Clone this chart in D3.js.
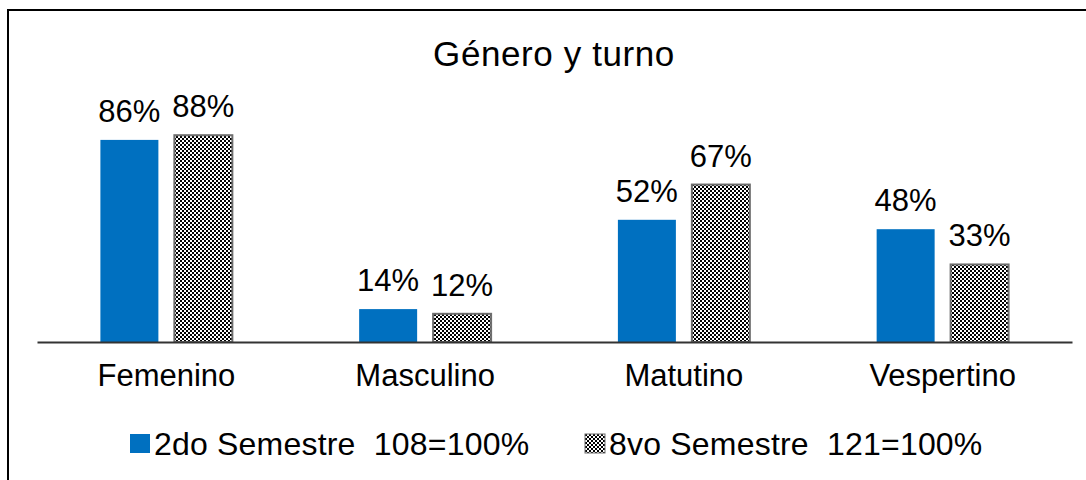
<!DOCTYPE html>
<html>
<head>
<meta charset="utf-8">
<script src="https://cdn.jsdelivr.net/npm/d3@7"></script>
<style>
  body { margin: 0; background: #fff; }
  svg { display: block; font-family: "Liberation Sans", Arial, Helvetica, sans-serif; }
</style>
</head>
<body>
<svg id="chart" width="1086" height="480"></svg>
<script>
// chart data
const categories = ["Femenino", "Masculino", "Matutino", "Vespertino"];
const seriesNames = ["2do Semestre  108=100%", "8vo Semestre  121=100%"];
const sem2 = [86, 14, 52, 48];
const sem8 = [88, 12, 67, 33];
const title = "Género y turno";

const svg = d3.select("#chart");

// pattern for the 8vo semestre bars (checker)
const defs = svg.append("defs");
const pat = defs.append("pattern")
    .attr("id", "checker")
    .attr("patternUnits", "userSpaceOnUse")
    .attr("width", 4).attr("height", 4);
pat.append("rect").attr("width", 4).attr("height", 4).attr("fill", "#fff");
pat.append("rect").attr("width", 2).attr("height", 2).attr("fill", "#000");
pat.append("rect").attr("x", 2).attr("y", 2).attr("width", 2).attr("height", 2).attr("fill", "#000");

// frame (left + top)
svg.append("path")
    .attr("d", "M8,480V10H1086")
    .attr("fill", "none")
    .attr("stroke", "#000")
    .attr("stroke-width", 2);

const plot = {left: 37, right: 1072, base: 342, top: 107};

const x = d3.scaleBand()
    .domain(categories)
    .range([plot.left, plot.right])
    .paddingInner(0.49)
    .paddingOuter(0.245);

const xs = d3.scaleBand()
    .domain([0, 1])
    .range([0, x.bandwidth()])
    .paddingInner(0.216);

const y = d3.scaleLinear()
    .domain([0, 100])
    .range([plot.base, plot.top]);

// flatten rows for drawing
const rows = [];
categories.forEach((c, i) => {
    rows.push({cat: c, s: 0, v: sem2[i]});
    rows.push({cat: c, s: 1, v: sem8[i]});
});

svg.append("g").selectAll("rect")
    .data(rows)
    .join("rect")
    .attr("x", d => x(d.cat) + xs(d.s))
    .attr("y", d => y(d.v))
    .attr("width", xs.bandwidth())
    .attr("height", d => y(0) - y(d.v))
    .attr("fill", d => d.s === 0 ? "#0070C0" : "url(#checker)")
    .attr("stroke", d => d.s === 0 ? "none" : "#6e6e6e")
    .attr("stroke-width", 2);

// value labels
svg.append("g").selectAll("text")
    .data(rows)
    .join("text")
    .attr("x", d => x(d.cat) + xs(d.s) + xs.bandwidth() / 2)
    .attr("y", d => y(d.v) - 18)
    .attr("text-anchor", "middle")
    .attr("font-size", 31)
    .attr("fill", "#000")
    .text(d => d.v + "%");

// baseline axis
const xAxis = d3.axisBottom(x).tickSize(0).tickPadding(30);
const ax = svg.append("g")
    .attr("transform", `translate(0,${plot.base})`)
    .call(xAxis);
ax.select(".domain").attr("stroke", "#333").attr("stroke-width", 2);
ax.selectAll("text")
    .attr("font-size", 31)
    .attr("font-family", "Liberation Sans, Arial, sans-serif")
    .attr("fill", "#000")
    .attr("dy", "0.71em")
    .attr("y", 22);

// title
svg.append("text")
    .attr("x", 554)
    .attr("y", 66)
    .attr("text-anchor", "middle")
    .attr("font-size", 35)
    .attr("letter-spacing", 0.6)
    .attr("fill", "#000")
    .text(title);

// legend
const legendX = [130, 585];
const lg = svg.append("g").selectAll("g")
    .data(seriesNames)
    .join("g")
    .attr("transform", (d, i) => `translate(${legendX[i]},434)`);
lg.append("rect")
    .attr("width", 20).attr("height", 19)
    .attr("fill", (d, i) => i === 0 ? "#0070C0" : "url(#checker)")
    .attr("stroke", (d, i) => i === 0 ? "none" : "#6e6e6e")
    .attr("stroke-width", 1);
lg.append("text")
    .attr("x", 24)
    .attr("y", 21)
    .attr("font-size", 32)
    .attr("letter-spacing", 0.2)
    .attr("fill", "#000")
    .style("white-space", "pre")
    .text(d => d);
</script>
</body>
</html>
